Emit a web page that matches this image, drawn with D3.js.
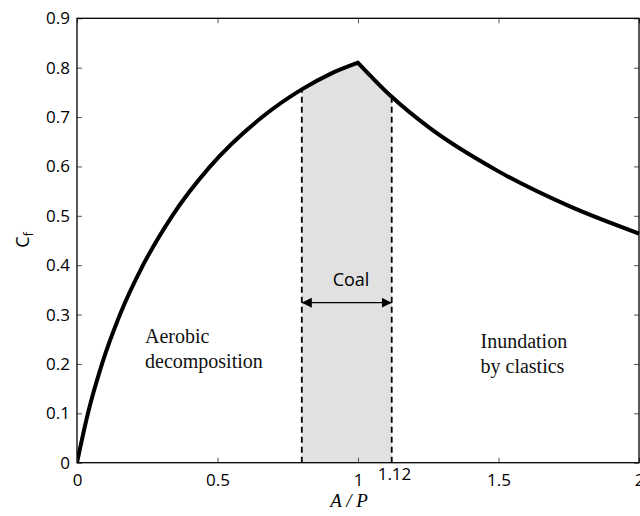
<!DOCTYPE html>
<html><head><meta charset="utf-8">
<script src="https://cdn.jsdelivr.net/npm/d3@7"></script>
<style>body{margin:0;background:#fff}</style>
</head><body>
<svg id="c" width="640" height="516"></svg>
<script>
// ---- data ----
const leftX = [0, 0.039, 0.089, 0.153, 0.235, 0.339, 0.474, 0.659, 0.8, 0.9, 1.0];
const leftY = [0, 0.1, 0.2, 0.3, 0.4, 0.5, 0.6, 0.7, 0.756, 0.787, 0.81];
const rightX = [1.0, 1.12, 1.25, 1.5, 1.75, 2.0];
const rightY = [0.81, 0.741, 0.68, 0.59, 0.52, 0.464];
const xTicks = [0, 0.5, 1, 1.5, 2];
const xTickLabels = ["0", "0.5", "1", "1.5", "2"];
const yTicks = [0, 0.1, 0.2, 0.3, 0.4, 0.5, 0.6, 0.7, 0.8, 0.9];
const yTickLabels = ["0", "0.1", "0.2", "0.3", "0.4", "0.5", "0.6", "0.7", "0.8", "0.9"];
const coalRange = [0.8, 1.12];
const coalLabel = "Coal";
const extraTickLabel = "1.12";
const leftNote = ["Aerobic", "decomposition"];
const rightNote = ["Inundation", "by clastics"];
const xTitle = "A / P";

// ---- layout ----
const L = 77, R = 639, T = 18.3, B = 462.7;
const svg = d3.select("#c");
const x = d3.scaleLinear().domain([0, 2]).range([L, R]);
const y = d3.scaleLinear().domain([0, 0.9]).range([B, T]);
const sans = "'Open Sans', sans-serif";
const serif = "'Liberation Serif', 'Times New Roman', serif";

const defs = svg.append("defs");
defs.append("clipPath").attr("id", "coalClip").append("rect")
  .attr("x", x(coalRange[0])).attr("y", T)
  .attr("width", x(coalRange[1]) - x(coalRange[0])).attr("height", B - T);
defs.append("clipPath").attr("id", "plotClip").append("rect")
  .attr("x", L).attr("y", T - 5).attr("width", R - L + 5).attr("height", B - T + 5);
defs.append("marker").attr("id", "ah").attr("viewBox", "0 -5 10 10")
  .attr("refX", 10).attr("refY", 0).attr("markerWidth", 10).attr("markerHeight", 10)
  .attr("markerUnits", "userSpaceOnUse").attr("orient", "auto-start-reverse")
  .append("path").attr("d", "M0,-5L10,0L0,5Z").attr("fill", "#000");

const leftPts = leftX.map((v, i) => [v, leftY[i]]);
const rightPts = rightX.map((v, i) => [v, rightY[i]]);
const line = d3.line().x(d => x(d[0])).y(d => y(d[1])).curve(d3.curveMonotoneX);
const pathD = line(leftPts) + line(rightPts).replace(/^M/, "L");

// shaded coal region
svg.append("path")
  .attr("d", pathD + `L${x(2)},${y(0)}L${x(0)},${y(0)}Z`)
  .attr("fill", "#e1e1e1").attr("clip-path", "url(#coalClip)");

// dashed lines
const yAtL = leftY[leftX.indexOf(coalRange[0])];
const yAtR = rightY[rightX.indexOf(coalRange[1])];
[[coalRange[0], yAtL], [coalRange[1], yAtR]].forEach(d => {
  svg.append("line").attr("x1", x(d[0])).attr("x2", x(d[0]))
    .attr("y1", y(0)).attr("y2", y(d[1]))
    .attr("stroke", "#000").attr("stroke-width", 1.8).attr("stroke-dasharray", "6,4");
});

// arrow
const arrowY = 302.7;
svg.append("line").attr("x1", x(coalRange[0])).attr("x2", x(coalRange[1]))
  .attr("y1", arrowY).attr("y2", arrowY)
  .attr("stroke", "#000").attr("stroke-width", 1.2)
  .attr("marker-start", "url(#ah)").attr("marker-end", "url(#ah)");
svg.append("text").attr("x", 351).attr("y", 285.5).attr("text-anchor", "middle")
  .attr("font-family", sans).attr("font-size", 18).text(coalLabel);

// annotations
const noteG = svg.append("g").attr("font-family", serif).attr("font-size", 20).attr("fill", "#111");
leftNote.forEach((t, i) => noteG.append("text").attr("x", 145).attr("y", 343 + i * 24.5).text(t));
rightNote.forEach((t, i) => noteG.append("text").attr("x", 480.5).attr("y", 348 + i * 25).text(t));

// curve
svg.append("path").attr("d", pathD).attr("fill", "none").attr("stroke", "#000")
  .attr("stroke-width", 4).attr("stroke-linejoin", "miter").attr("clip-path", "url(#plotClip)");

// axes
const tickCol = "#555";
const gL = svg.append("g").attr("transform", `translate(${L},0)`)
  .call(d3.axisLeft(y).tickValues(yTicks).tickFormat((d, i) => yTickLabels[i])
    .tickSizeInner(-5).tickSizeOuter(0).tickPadding(7));
const gB = svg.append("g").attr("transform", `translate(0,${B})`)
  .call(d3.axisBottom(x).tickValues(xTicks).tickFormat((d, i) => xTickLabels[i])
    .tickSizeInner(-5).tickSizeOuter(0).tickPadding(11));
const gT = svg.append("g").attr("transform", `translate(0,${T})`)
  .call(d3.axisTop(x).tickValues(xTicks).tickFormat("").tickSizeInner(-5).tickSizeOuter(0));
const gR = svg.append("g").attr("transform", `translate(${R},0)`)
  .call(d3.axisRight(y).tickValues(yTicks).tickFormat("").tickSizeInner(-5).tickSizeOuter(0));
[gL, gB, gT, gR].forEach(g => {
  g.selectAll(".domain").remove();
  g.selectAll(".tick line").attr("stroke", tickCol).attr("stroke-width", 1);
  g.selectAll("text").attr("font-family", sans).attr("font-size", 17).attr("fill", "#000");
});
svg.append("rect").attr("x", L).attr("y", T).attr("width", R - L).attr("height", B - T)
  .attr("fill", "none").attr("stroke", "#000").attr("stroke-width", 1.3);

// extra tick label
svg.append("text").attr("x", 394.5).attr("y", 480).attr("text-anchor", "middle")
  .attr("font-family", sans).attr("font-size", 17).text(extraTickLabel);

// axis titles
svg.append("text").attr("x", 349).attr("y", 507).attr("text-anchor", "middle")
  .attr("font-family", serif).attr("font-style", "italic").attr("font-size", 19)
  .attr("xml:space", "preserve").text(xTitle);
const yt = svg.append("text").attr("transform", "translate(28.5,240) rotate(-90)")
  .attr("text-anchor", "middle").attr("font-family", sans).attr("font-size", 18);
yt.append("tspan").text("C");
yt.append("tspan").attr("font-size", 12).attr("dy", 4).text("f");
</script>
</body></html>
